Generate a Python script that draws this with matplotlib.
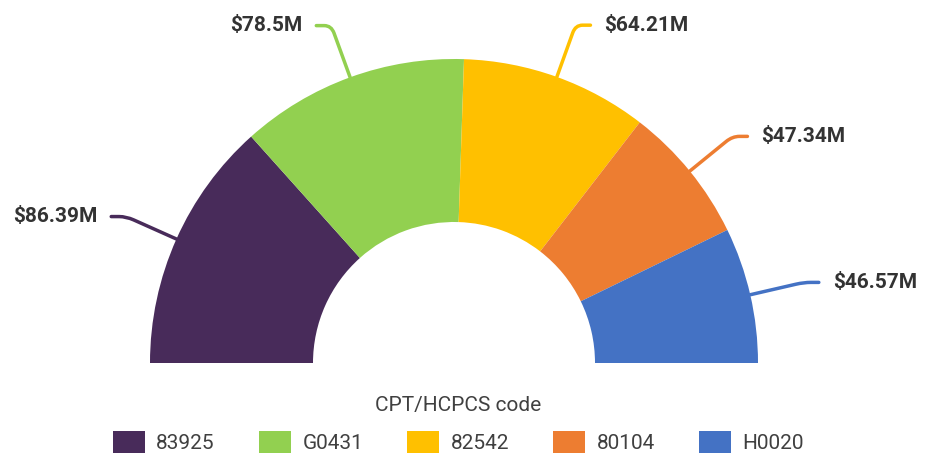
import numpy as np
import matplotlib
matplotlib.use("Agg")
import matplotlib.pyplot as plt
from matplotlib.path import Path
from matplotlib.patches import PathPatch, Patch

plt.rcParams['font.family'] = ['Roboto', 'DejaVu Sans']

codes = ['83925', 'G0431', '82542', '80104', 'H0020']
values = [86.39, 78.5, 64.21, 47.34, 46.57]
labels = ['$86.39M', '$78.5M', '$64.21M', '$47.34M', '$46.57M']
colors = ['#482B5A', '#92D050', '#FFC000', '#ED7D31', '#4472C4']

W, H = 941, 455
fig = plt.figure(figsize=(W / 100, H / 100), dpi=100)
ax = fig.add_axes([0, 0, 1, 1])
ax.set_xlim(0, W)
ax.set_ylim(0, H)
ax.set_aspect('equal')
ax.axis('off')

cx, cy = 454, H - 363
R, width = 304, 163
total = sum(values)

# half donut: an invisible wedge fills the lower half
wedges, _ = ax.pie(values + [total], colors=colors + ['none'], startangle=180,
                   counterclock=False, radius=R, center=(cx, cy),
                   wedgeprops=dict(width=width, linewidth=0))
ax.set_xlim(0, W)
ax.set_ylim(0, H)

# leader lines and value labels
for w, lab, col in zip(wedges[:-1], labels, colors):
    mid = np.deg2rad((w.theta1 + w.theta2) / 2)
    p0 = np.array([cx + R * np.cos(mid), cy + R * np.sin(mid)])
    p1 = np.array([cx + (R + 55) * np.cos(mid), cy + (R + 55) * np.sin(mid)])
    side = 1 if np.cos(mid) >= 0 else -1
    p2 = p1 + np.array([side * 15, 0])
    d = (p1 - p0) / np.linalg.norm(p1 - p0)
    pa = p1 - d * 8
    pb = p1 + np.array([side * 7, 0])
    path = Path([p0, pa, p1, pb, p2],
                [Path.MOVETO, Path.LINETO, Path.CURVE3, Path.CURVE3, Path.LINETO])
    ax.add_patch(PathPatch(path, fill=False, edgecolor=col, lw=2.5,
                           capstyle='round'))
    ax.text(p2[0] + side * 14, p2[1], lab, ha='left' if side > 0 else 'right',
            va='center', fontsize=15, fontweight='bold', color='#333333')

handles = [Patch(facecolor=c, edgecolor='none') for c in colors]
leg = fig.legend(handles, codes, loc='lower center', bbox_to_anchor=(0.487, -0.037),
                 ncol=5, frameon=False, title='CPT/HCPCS code', fontsize=15,
                 title_fontsize=15, handlelength=1.55, handleheight=1.25,
                 columnspacing=2.1, handletextpad=0.55, labelspacing=0.75)
for t in leg.get_texts():
    t.set_color('#404040')
leg.get_title().set_color('#404040')

fig.savefig('out.png', dpi=100)
